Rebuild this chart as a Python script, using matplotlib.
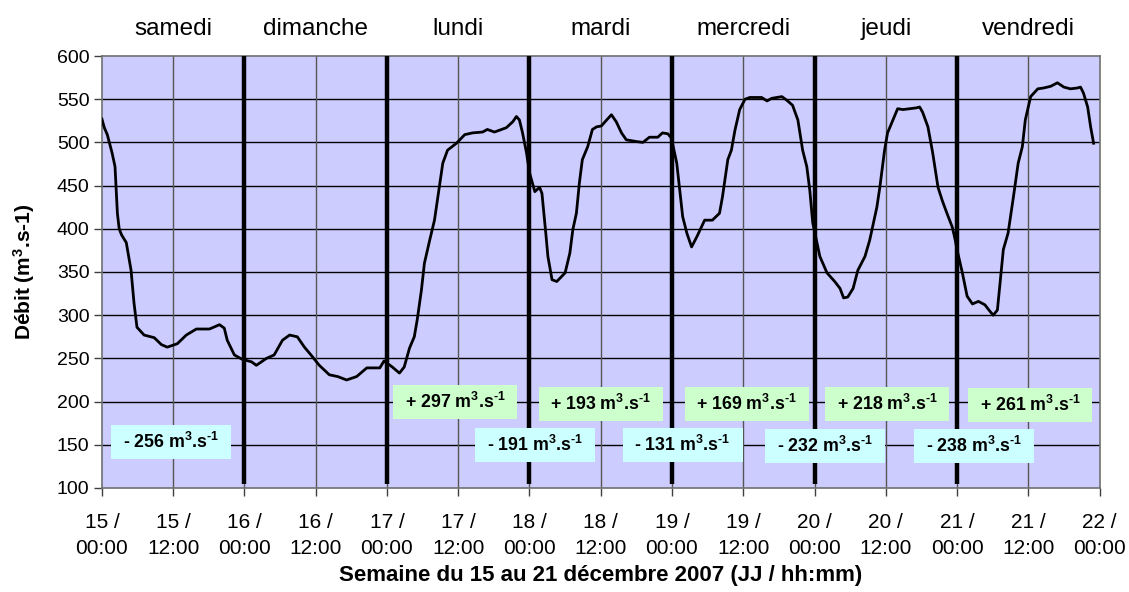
import matplotlib
matplotlib.use("Agg")
import matplotlib.pyplot as plt
from matplotlib.patches import Rectangle
from matplotlib.transforms import blended_transform_factory
import numpy as np

plt.rcParams['font.family'] = ['Liberation Sans', 'DejaVu Sans']
plt.rcParams['mathtext.fontset'] = 'custom'
plt.rcParams['mathtext.rm'] = 'Liberation Sans:bold'
plt.rcParams['mathtext.it'] = 'Liberation Sans:bold'
plt.rcParams['mathtext.bf'] = 'Liberation Sans:bold'

# ---- data ----
hours = [0, 0.4, 0.9, 1.7, 2.2, 2.6, 2.9, 3.3, 4.1, 4.9, 5.4, 5.9, 7.1, 8.8, 10.0, 11.0,
         12.7, 14.2, 15.9, 18.1, 19.8, 20.6, 21.1, 22.3, 23.6, 25.2, 26.0, 27.7, 29.0,
         30.4, 31.6, 32.9, 34.1, 35.2, 36.6, 38.3, 39.7, 41.2, 42.9, 44.6, 46.8, 47.5,
         48.9, 50.1, 50.9, 51.8, 52.6, 53.1, 53.8, 54.3, 55.2, 56.0, 56.9, 57.4, 58.2,
         59.7, 61.1, 62.4, 64.1, 64.9, 66.1, 67.3, 68.1, 69.2, 69.8, 70.3, 70.8, 71.5,
         72.0, 72.9, 73.7, 74.1, 74.4, 74.8, 75.1, 75.8, 76.6, 78.0, 78.8, 79.3, 79.9,
         80.4, 80.9, 81.8, 82.6, 83.3, 84.1, 85.0, 85.8, 86.6, 87.5, 88.3, 90.0, 91.1,
         92.2, 93.6, 94.4, 95.3, 95.9, 96.8, 97.3, 97.8, 98.5, 99.3, 100.2, 101.5, 102.8,
         104.0, 104.5, 105.4, 106.0, 106.6, 107.4, 108.3, 109.1, 111.1, 112.0, 112.8,
         114.5, 115.3, 116.3, 117.2, 118.0, 118.7, 119.2, 119.7, 120.9, 122.1, 123.4,
         124.3, 124.9, 125.6, 126.5, 127.3, 128.5, 129.3, 130.5, 131.0, 131.8, 132.3,
         133.2, 134.0, 134.9, 136.0, 137.2, 137.7, 138.2, 139.1, 139.9, 140.8, 141.5,
         142.3, 143.2, 143.7, 144.0, 144.9, 145.7, 146.6, 147.6, 148.7, 149.6, 150.1,
         150.8, 151.3, 151.8, 152.6, 153.5, 154.3, 155.0, 155.5, 156.4, 157.6, 158.6,
         159.8, 160.9, 162.0, 163.1, 164.3, 164.8, 165.3, 166.0, 166.5, 167.0]
debit = [527, 517, 509, 488, 472, 418, 400, 393, 384, 352, 314, 286, 277, 274, 266, 263,
         267, 277, 284, 284, 289, 285, 271, 254, 249, 246, 242, 250, 254,
         271, 277, 275, 263, 254, 242, 231, 229, 225, 229, 239, 239, 247,
         240, 233, 240, 262, 275, 295, 329, 360, 387, 410, 453, 476, 491,
         499, 509, 511, 512, 515, 512, 515, 517, 524, 530, 526, 512, 488,
         465, 443, 448, 441, 420, 391, 368, 341, 339, 349, 372, 399, 418,
         453, 480, 495, 515, 518, 519, 526, 532, 524, 511, 503, 501, 500,
         506, 506, 511, 510, 505, 476, 445, 414, 395, 379, 391, 410, 410,
         418, 437, 480, 491, 514, 538, 550, 552, 552, 548, 551,
         553, 549, 543, 526, 491, 472, 445, 407, 368, 349, 339,
         331, 320, 321, 331, 352, 368, 387, 425, 448, 491, 511,
         526, 539, 538, 539, 540, 541, 535, 518, 488, 448, 433,
         418, 402, 387, 376, 349, 322, 313, 316, 312, 304, 300,
         306, 341, 376, 395, 437, 476, 495, 526, 553, 562, 563,
         565, 569, 564, 562, 563, 564, 557, 541, 518, 499]

day_names = ['samedi', 'dimanche', 'lundi', 'mardi', 'mercredi', 'jeudi', 'vendredi']
tick_labels = ['15 /\n00:00', '15 /\n12:00', '16 /\n00:00', '16 /\n12:00', '17 /\n00:00',
               '17 /\n12:00', '18 /\n00:00', '18 /\n12:00', '19 /\n00:00', '19 /\n12:00',
               '20 /\n00:00', '20 /\n12:00', '21 /\n00:00', '21 /\n12:00', '22 /\n00:00']
day_boundaries = [24, 48, 72, 96, 120, 144]

ann_text = ['- 256', '+ 297', '+ 193', '- 191', '- 131', '+ 169', '+ 218', '+ 261', '- 232', '- 238']
ann_x = [11.7, 59.5, 84.0, 73.0, 97.8, 108.6, 132.2, 156.3, 121.8, 146.9]
ann_y = [153, 199.5, 197, 150, 150, 197, 197, 196, 149, 149]

# ---- figure ----
fig = plt.figure(figsize=(11.29, 5.92), dpi=100)
ax = fig.add_axes([0.0903, 0.1757, 0.8836, 0.7297])
ax.set_facecolor('#CCCCFF')
ax.set_xlim(0, 168)
ax.set_ylim(100, 600)

ax.set_yticks(np.arange(100, 601, 50))
ax.set_xticks(np.arange(0, 169, 12))
ax.set_xticklabels(tick_labels, linespacing=1.5)
ax.tick_params(axis='y', labelsize=14, length=6, width=1, color='#404040', pad=3)
ax.tick_params(axis='x', labelsize=15, length=6, width=1, color='#404040', pad=12)

for v in np.arange(150, 600, 50):
    ax.axhline(v, color='black', lw=1.0, zorder=1)
for h in np.arange(12, 168, 12):
    ax.axvline(h, color='#555555', lw=1.0, zorder=1)

for s in ax.spines.values():
    s.set_color('#707070')
    s.set_linewidth(1.2)

for d in day_boundaries:
    ax.plot([d, d], [105, 600], color='black', lw=3.2, zorder=3, solid_capstyle='butt',
            clip_on=False)

ax.plot(hours, debit, color='black', lw=2.0, zorder=4, solid_joinstyle='round')

trans = blended_transform_factory(ax.transData, ax.transAxes)
for i, name in enumerate(day_names):
    ax.text(12 + 24 * i, 1.0625, name, transform=trans, ha='center', va='center',
            fontsize=17.5)

box_h = 39.4
for t, x, y in zip(ann_text, ann_x, ann_y):
    green = t.startswith('+')
    w = 20.9 if green else 20.2
    ax.add_patch(Rectangle((x - w / 2, y - box_h / 2), w, box_h,
                           facecolor='#CCFFCC' if green else '#CCFFFF',
                           edgecolor='none', zorder=5))
    ax.text(x, y, t + r' m$^{3}$.s$^{\text{-}1}$', ha='center', va='center',
            fontsize=12.8, fontweight='bold', zorder=6)

ax.set_ylabel(r'Débit (m$^{3}$.s-1)', fontsize=15, fontweight='bold', labelpad=14)
fig.text(0.0903 + 0.8836 / 2, 1 - 575 / 592, 'Semaine du 15 au 21 décembre 2007 (JJ / hh:mm)',
         fontsize=16, fontweight='bold', ha='center', va='center')

fig.savefig('out.png', dpi=100)
